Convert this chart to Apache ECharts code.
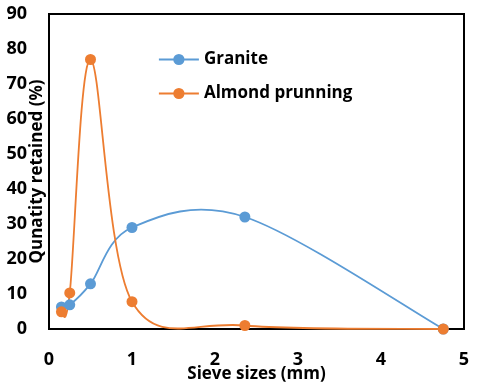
<!DOCTYPE html>
<html>
<head>
<meta charset="utf-8">
<script src="https://cdn.jsdelivr.net/npm/echarts@6/dist/echarts.min.js"></script>
<style>
  html, body { margin: 0; padding: 0; background: #fff; }
  #chart { width: 480px; height: 388px; }
</style>
</head>
<body>
<div id="chart"></div>
<script>
// sieve sizes (mm)
var sieveSizes = [0.15, 0.25, 0.5, 1, 2.36, 4.75]
var granite = [6.3, 6.9, 12.9, 29, 32, 0]
var almond = [4.9, 10.3, 77, 7.8, 1, 0]
var xTicks = [0, 1, 2, 3, 4, 5]
var yTicks = [0, 10, 20, 30, 40, 50, 60, 70, 80, 90]

var blue = '#5B9BD5'
var orange = '#ED7D31'
var fontFam = '"Open Sans", "DejaVu Sans", sans-serif'

function pairs (ys) {
  return sieveSizes.map(function (x, i) { return [x, ys[i]] })
}

// excel-like smoothed curve: one bezier segment per data point
function curveSeries (name, ys, color) {
  return {
    name: name,
    type: 'custom',
    z: 2,
    silent: true,
    data: pairs(ys),
    encode: { x: 0, y: 1 },
    renderItem: function (params, api) {
      var i = params.dataIndex
      var n = sieveSizes.length
      if (i >= n - 1) return null
      var pt = function (k) {
        k = Math.max(0, Math.min(n - 1, k))
        return api.coord([sieveSizes[k], ys[k]])
      }
      var p0 = pt(i - 1)
      var p1 = pt(i)
      var p2 = pt(i + 1)
      var p3 = pt(i + 2)
      return {
        type: 'bezierCurve',
        shape: {
          x1: p1[0], y1: p1[1],
          x2: p2[0], y2: p2[1],
          cpx1: p1[0] + (p2[0] - p0[0]) / 6,
          cpy1: p1[1] + (p2[1] - p0[1]) / 6,
          cpx2: p2[0] - (p3[0] - p1[0]) / 6,
          cpy2: p2[1] - (p3[1] - p1[1]) / 6
        },
        style: { stroke: color, lineWidth: 1.8, fill: null }
      }
    }
  }
}

function markerSeries (name, ys, color) {
  return {
    name: name,
    type: 'line',
    z: 3,
    data: pairs(ys),
    symbol: 'circle',
    symbolSize: 11,
    color: color,
    lineStyle: { width: 1.8, opacity: 0 }
  }
}

var chart = echarts.init(document.getElementById('chart'))
var option = {
  animation: false,
  grid: {
    left: 49, right: 16, top: 14, bottom: 59,
    containLabel: false,
    outerBoundsMode: 'none',
    show: true,
    borderColor: '#000',
    borderWidth: 2
  },
  legend: {
    left: 153,
    top: 46,
    orient: 'vertical',
    itemWidth: 40,
    itemHeight: 14,
    itemGap: 17,
    textStyle: { fontFamily: fontFam, fontWeight: 'bold', fontSize: 17, color: '#000' },
    data: [
      { name: 'Granite', lineStyle: { opacity: 1, width: 1.8, color: blue } },
      { name: 'Almond prunning', lineStyle: { opacity: 1, width: 1.8, color: orange } }
    ]
  },
  xAxis: {
    type: 'value',
    min: xTicks[0],
    max: xTicks[xTicks.length - 1],
    interval: 1,
    name: 'Sieve sizes (mm)',
    nameLocation: 'middle',
    nameGap: 37,
    nameMoveOverlap: false,
    nameTextStyle: { fontFamily: fontFam, fontWeight: 'bold', fontSize: 17, color: '#000' },
    axisLine: { lineStyle: { color: '#000', width: 2 } },
    axisTick: { show: false },
    splitLine: { show: false },
    axisLabel: { margin: 22, fontFamily: fontFam, fontWeight: 'bold', fontSize: 18, color: '#000' }
  },
  yAxis: {
    type: 'value',
    min: yTicks[0],
    max: yTicks[yTicks.length - 1],
    interval: 10,
    name: 'Qunatity retained (%)',
    nameLocation: 'middle',
    nameGap: 3,
    nameRotate: 90,
    nameMoveOverlap: false,
    nameTextStyle: { fontFamily: fontFam, fontWeight: 'bold', fontSize: 17, color: '#000' },
    axisLine: { lineStyle: { color: '#000', width: 2 } },
    axisTick: { show: false },
    splitLine: { show: false },
    axisLabel: { margin: 22, fontFamily: fontFam, fontWeight: 'bold', fontSize: 18, color: '#000' }
  },
  series: [
    curveSeries('Granite curve', granite, blue),
    curveSeries('Almond curve', almond, orange),
    markerSeries('Granite', granite, blue),
    markerSeries('Almond prunning', almond, orange)
  ]
}
chart.setOption(option)
</script>
</body>
</html>
